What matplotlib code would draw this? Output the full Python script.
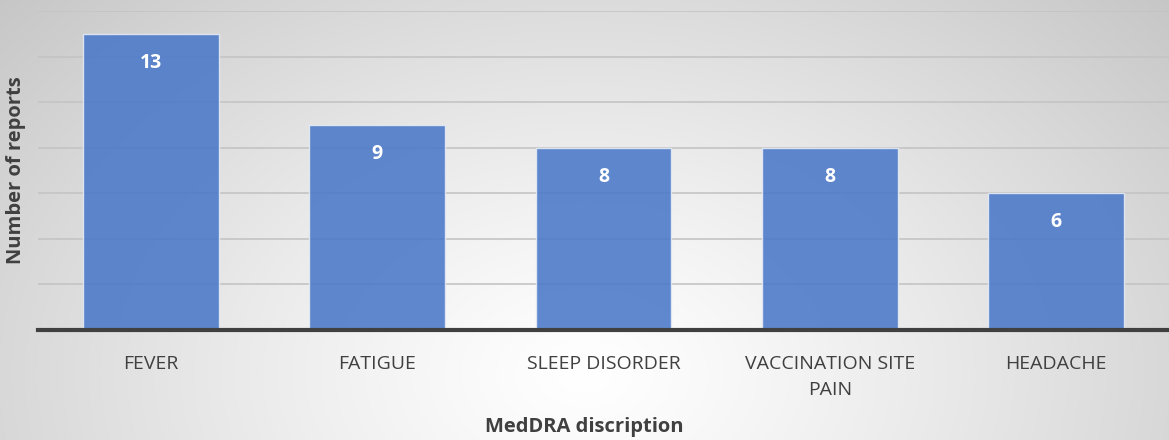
import numpy as np
import matplotlib.pyplot as plt

plt.rcParams['font.family'] = ['Open Sans', 'DejaVu Sans']

categories = ["FEVER", "FATIGUE", "SLEEP DISORDER", "VACCINATION SITE\nPAIN", "HEADACHE"]
reports = [13, 9, 8, 8, 6]

fig = plt.figure(figsize=(11.69, 4.4), dpi=100)

# fondo con degradado radial (centro claro abajo al medio)
bg = fig.add_axes([0, 0, 1, 1], zorder=-10)
yy, xx = np.mgrid[1:0:440j, 0:1:1169j]
r = np.sqrt(((xx - 0.5) / 0.6) ** 2 + ((yy - 0.15) / 1.1) ** 2)
shade = np.clip(1 - 0.19 * r ** 1.2, 0, 1)
bg.imshow(np.dstack([shade, shade, shade]), aspect='auto', extent=[0, 1, 0, 1])
bg.axis('off')

ax = fig.add_axes([38 / 1169, 110 / 440, 1 - 38 / 1169, 319 / 440])
ax.patch.set_alpha(0)
x = np.arange(len(categories))
bars = ax.bar(x, reports, width=0.6, color='#4a78c8', alpha=0.88,
              edgecolor='#e6ecf7', linewidth=1, zorder=3)
for b, v in zip(bars, reports):
    ax.annotate(f"{v}", (b.get_x() + b.get_width() / 2, v), xytext=(0, -29),
                textcoords='offset pixels',
                ha='center', va='center', color='white', fontsize=14,
                fontweight='bold', zorder=4)

ax.set_xlim(-0.5, len(categories) - 0.5)
ax.set_ylim(0, 14)
ax.set_yticks(np.arange(0, 15, 2))
ax.set_yticklabels([])
ax.tick_params(axis='y', length=0)
ax.tick_params(axis='x', length=0, pad=18, labelsize=14, labelcolor='#404040')
ax.set_xticks(x)
ax.set_xticklabels(categories, linespacing=1.6)
ax.grid(axis='y', color='#c4c4c4', linewidth=1.2, zorder=0)
for s in ['top', 'right', 'left']:
    ax.spines[s].set_visible(False)
ax.spines['bottom'].set_color('#404040')
ax.spines['bottom'].set_linewidth(3)
ax.spines['bottom'].set_zorder(5)

fig.text(584 / 1169, 1 - 427 / 440, "MedDRA discription", ha='center', va='center',
         fontsize=14.5, fontweight='bold', color='#404040')
fig.text(16 / 1169, 1 - 170 / 440, "Number of reports", ha='center', va='center',
         rotation=90, fontsize=14.5, fontweight='bold', color='#404040')

plt.savefig("out.png", dpi=100)
plt.close()
